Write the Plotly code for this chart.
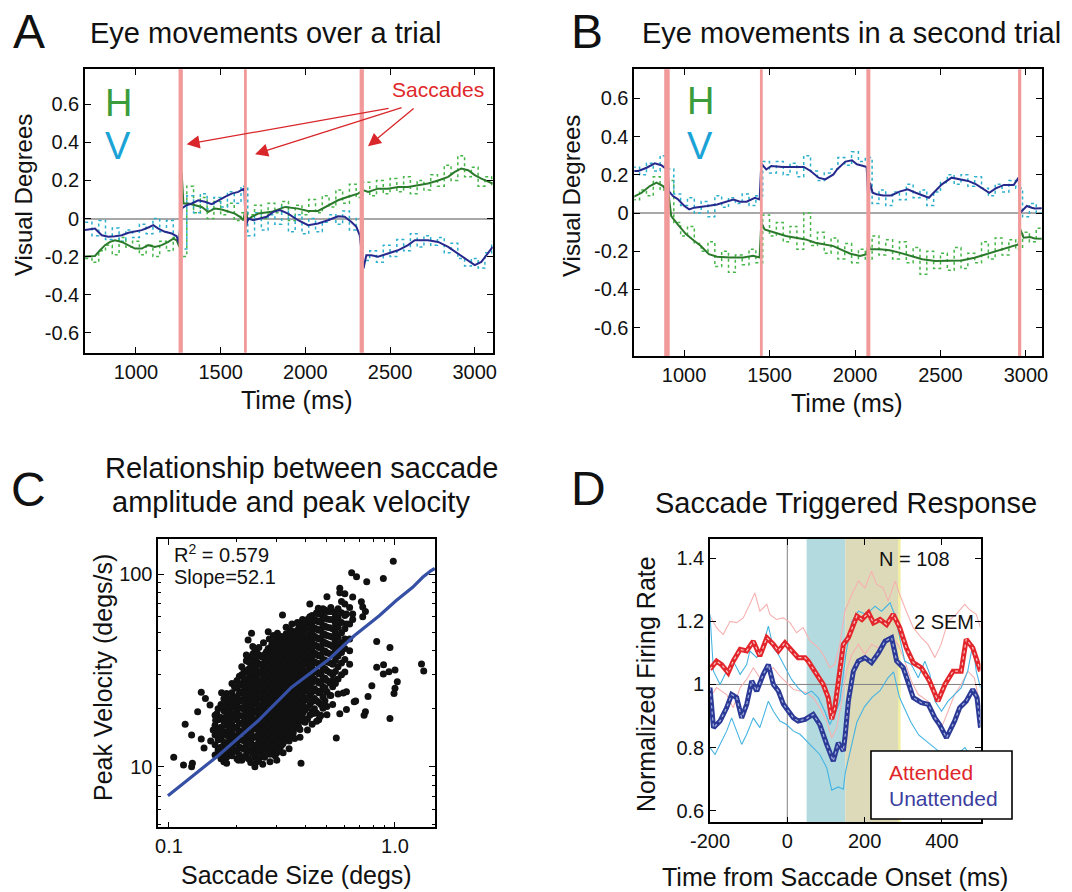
import plotly.graph_objects as go

W, H = 1072, 892
FONT = "Liberation Sans, Arial, Helvetica, sans-serif"

# ---------------- Panel A: eye position over a trial ----------------
A_SACCADES = [1264, 1646, 2333]
A_SACC_WIDTH = [4.3, 2.8, 4.3]

A_H_T = [699, 758, 788, 817, 847, 876, 916, 955, 994, 1034, 1073, 1112, 1152, 1191, 1220, 1240,
         1256, 1270, 1280, 1309, 1349, 1388, 1427, 1466, 1506, 1545, 1584, 1614, 1634, 1647,
         1659, 1683, 1722, 1801, 1880, 1957, 2016, 2075, 2134, 2193, 2252, 2311, 2341, 2370,
         2429, 2488, 2547, 2606, 2665, 2724, 2784, 2843, 2882, 2921, 2961, 3000, 3039, 3079, 3106]
A_H = [-0.200, -0.197, -0.167, -0.140, -0.123, -0.114, -0.123, -0.140, -0.158, -0.158, -0.140,
       -0.149, -0.140, -0.123, -0.106, -0.114, -0.149, 0.236, 0.079, 0.079, 0.070, 0.061, 0.035,
       0.053, 0.047, 0.035, 0.026, 0.009, -0.009, 0.053, -0.009, 0.009, 0.026, 0.035, 0.061,
       0.052, 0.040, 0.040, 0.070, 0.096, 0.114, 0.131, 0.149, 0.140, 0.157, 0.157, 0.166,
       0.166, 0.175, 0.184, 0.200, 0.219, 0.245, 0.263, 0.254, 0.228, 0.210, 0.193, 0.184]

A_V_T = [699, 758, 798, 837, 876, 916, 955, 994, 1034, 1073, 1102, 1132, 1171, 1211, 1240, 1254,
         1270, 1299, 1329, 1368, 1407, 1447, 1486, 1525, 1565, 1604, 1640, 1647, 1663, 1693,
         1732, 1771, 1811, 1850, 1898, 1957, 2016, 2075, 2134, 2193, 2232, 2272, 2301, 2321,
         2331, 2343, 2360, 2390, 2429, 2488, 2547, 2606, 2646, 2724, 2784, 2843, 2902, 2961,
         3000, 3039, 3079, 3106]
A_V = [-0.061, -0.053, -0.088, -0.096, -0.093, -0.088, -0.075, -0.070, -0.061, -0.047, -0.035,
       -0.053, -0.070, -0.079, -0.093, -0.131, 0.053, 0.070, 0.079, 0.096, 0.088, 0.075, 0.096,
       0.114, 0.131, 0.140, 0.158, -0.044, 0.000, -0.009, 0.000, 0.009, 0.035, 0.044, 0.026,
       -0.009, -0.035, -0.026, -0.009, 0.012, 0.009, -0.018, -0.044, -0.088, -0.167, -0.263,
       -0.193, -0.193, -0.201, -0.184, -0.167, -0.140, -0.114, -0.114, -0.123, -0.149, -0.184,
       -0.219, -0.245, -0.228, -0.184, -0.149]

# unfiltered samples, one every 40 ms from 700 to 3100 ms
RAW_T = list(range(700, 3101, 40))
A_H_RAW = [-0.21, -0.23, -0.17, -0.14, -0.19, -0.10, -0.15, -0.12, -0.19, -0.14,
           -0.20, -0.12, -0.17, -0.10, -0.20, 0.17, 0.03, 0.11, 0.00, 0.09,
           0.02, 0.08, -0.01, 0.03, 0.02, 0.07, 0.00, 0.08, 0.03, 0.09,
           -0.01, 0.07, 0.02, 0.10, 0.03, 0.12, 0.06, 0.15, 0.08, 0.18,
           0.11, 0.19, 0.12, 0.20, 0.13, 0.21, 0.14, 0.22, 0.13, 0.20,
           0.15, 0.23, 0.17, 0.28, 0.20, 0.33, 0.22, 0.27, 0.17, 0.22, 0.16]
A_V_RAW = [-0.02, -0.09, -0.01, -0.11, -0.05, -0.12, -0.06, -0.10, -0.03, -0.08,
           0.00, -0.07, -0.01, -0.09, -0.16, 0.12, 0.03, 0.13, 0.05, 0.11,
           0.06, 0.14, 0.08, 0.17, -0.09, 0.03, -0.06, 0.02, -0.03, 0.06,
           -0.07, 0.02, -0.08, 0.00, -0.07, -0.02, 0.02, -0.03, 0.04, -0.06,
           0.00, -0.22, -0.17, -0.23, -0.14, -0.20, -0.11, -0.17, -0.08, -0.15,
           -0.09, -0.14, -0.10, -0.18, -0.13, -0.21, -0.25, -0.21, -0.26, -0.18, -0.12]

# ---------------- Panel B: a second trial ----------------
B_SACCADES = [900, 1452, 2078, 2963]
B_SACC_WIDTH = [5.5, 2.8, 4.0, 3.2]

B_V_T = [695, 733, 781, 829, 867, 890, 900, 911, 935, 963, 1002, 1030, 1059, 1097, 1136, 1193,
         1251, 1289, 1327, 1366, 1414, 1442, 1452, 1481, 1510, 1577, 1653, 1701, 1740, 1787,
         1826, 1874, 1896, 1944, 1982, 2011, 2049, 2068, 2078, 2088, 2103, 2126, 2164, 2212,
         2260, 2308, 2355, 2403, 2432, 2460, 2508, 2565, 2613, 2661, 2709, 2757, 2785, 2823,
         2871, 2928, 2947, 2957, 2967, 2986, 3005, 3034, 3051, 3100]
B_V = [0.220, 0.220, 0.237, 0.260, 0.250, 0.234, 0.321, 0.115, 0.089, 0.073, 0.037, 0.019,
       0.028, 0.031, 0.037, 0.045, 0.059, 0.071, 0.059, 0.059, 0.080, 0.071, 0.258, 0.228,
       0.246, 0.241, 0.241, 0.241, 0.220, 0.185, 0.176, 0.202, 0.229, 0.269, 0.276, 0.255,
       0.246, 0.241, 0.063, 0.159, 0.106, 0.098, 0.092, 0.092, 0.112, 0.124, 0.106, 0.089,
       0.080, 0.106, 0.150, 0.185, 0.176, 0.168, 0.150, 0.124, 0.106, 0.129, 0.147, 0.147,
       0.168, 0.185, 0.002, 0.019, 0.037, 0.028, 0.024, 0.025]

B_H_T = [695, 752, 800, 839, 877, 890, 900, 910, 925, 963, 1011, 1059, 1097, 1145, 1193, 1270,
         1347, 1404, 1442, 1452, 1471, 1500, 1538, 1596, 1653, 1711, 1768, 1826, 1874, 1915,
         1973, 2030, 2068, 2078, 2088, 2145, 2202, 2260, 2336, 2393, 2470, 2546, 2623, 2699,
         2776, 2852, 2928, 2957, 2967, 2986, 3024, 3051, 3100]
B_H = [0.080, 0.106, 0.141, 0.159, 0.141, 0.124, 0.170, 0.080, -0.016, -0.059, -0.110, -0.145,
       -0.171, -0.215, -0.229, -0.232, -0.232, -0.224, -0.232, -0.051, -0.086, -0.094, -0.103,
       -0.120, -0.129, -0.138, -0.155, -0.164, -0.173, -0.190, -0.213, -0.225, -0.216, -0.164,
       -0.190, -0.190, -0.195, -0.207, -0.225, -0.242, -0.251, -0.251, -0.248, -0.234, -0.213,
       -0.190, -0.173, -0.164, -0.086, -0.129, -0.126, -0.133, -0.135]

B_H_RAW = [0.07, 0.12, 0.09, 0.19, 0.12, 0.17, -0.05, -0.12, -0.07, -0.16,
           -0.20, -0.15, -0.28, -0.20, -0.31, -0.22, -0.27, -0.19, -0.26, -0.01,
           -0.12, -0.05, -0.15, -0.07, -0.19, 0.00, -0.17, -0.10, -0.21, -0.13,
           -0.24, -0.16, -0.26, -0.19, -0.25, -0.12, -0.22, -0.14, -0.24, -0.15,
           -0.26, -0.18, -0.32, -0.20, -0.29, -0.21, -0.30, -0.18, -0.29, -0.21,
           -0.26, -0.15, -0.24, -0.13, -0.22, -0.14, -0.19, -0.10, -0.15, -0.08, -0.14]
B_V_RAW = [0.24, 0.20, 0.26, 0.22, 0.30, 0.23, 0.10, 0.04, 0.08, 0.00,
           0.06, -0.02, 0.09, 0.03, 0.08, 0.05, 0.10, 0.04, 0.09, 0.27,
           0.21, 0.27, 0.20, 0.26, 0.19, 0.30, 0.22, 0.17, 0.21, 0.23,
           0.29, 0.25, 0.32, 0.27, 0.29, 0.05, 0.12, 0.04, 0.11, 0.07,
           0.15, 0.08, 0.12, 0.04, 0.11, 0.16, 0.20, 0.15, 0.20, 0.14,
           0.19, 0.13, 0.09, 0.15, 0.11, 0.17, 0.13, -0.02, 0.05, 0.00, 0.04]

# ---------------- Panel C: main sequence ----------------
# the dense core of the cloud, listed column by column (size -> velocities)
C_COL_SIZE = [0.20, 0.21, 0.22, 0.23, 0.24, 0.25, 0.26, 0.27, 0.28, 0.29, 0.30, 0.31, 0.32,
              0.33, 0.34, 0.35, 0.36, 0.37, 0.38, 0.39, 0.40, 0.42, 0.44, 0.46, 0.48, 0.50,
              0.53, 0.56, 0.60, 0.63,
              0.205, 0.215, 0.225, 0.235, 0.245, 0.255, 0.265, 0.275, 0.285, 0.295, 0.305,
              0.315, 0.325, 0.335, 0.345, 0.355, 0.365, 0.375, 0.385, 0.395, 0.41, 0.43,
              0.45, 0.47, 0.49, 0.515, 0.545, 0.58,
              0.16, 0.165, 0.17, 0.175, 0.18, 0.185, 0.19, 0.195]
C_COL_VEL = [
    [11.0, 12.0, 13.2, 14.5, 16.0, 17.5, 19.2, 21.0, 23.0, 25.5, 28.0],
    [10.8, 12.5, 13.8, 15.2, 16.8, 18.4, 20.2, 22.2, 24.5, 27.0, 30.0, 33.0],
    [11.5, 12.8, 14.0, 15.6, 17.2, 19.0, 21.0, 23.2, 25.5, 28.0, 31.0, 35.5],
    [10.5, 12.2, 13.5, 15.0, 16.5, 18.2, 20.0, 22.0, 24.2, 26.8, 29.5, 33.0, 37.0],
    [11.2, 12.6, 14.2, 15.8, 17.5, 19.4, 21.5, 23.8, 26.2, 29.0, 32.0, 36.0, 40.5],
    [11.0, 12.0, 13.4, 15.0, 16.6, 18.4, 20.5, 22.8, 25.0, 27.5, 30.5, 34.0, 38.0],
    [11.5, 13.0, 14.5, 16.2, 18.0, 20.0, 22.2, 24.5, 27.0, 30.0, 33.0, 37.0],
    [12.5, 14.0, 15.6, 17.4, 19.2, 21.4, 23.6, 26.0, 28.8, 32.0, 35.5, 39.5],
    [11.6, 13.0, 14.6, 16.2, 18.0, 20.0, 22.0, 24.5, 27.0, 30.0, 33.5, 37.0, 41.0],
    [12.2, 13.8, 15.4, 17.0, 19.0, 21.0, 23.2, 25.6, 28.4, 31.5, 35.0, 39.0, 43.5],
    [11.8, 13.0, 14.5, 16.0, 17.8, 19.8, 22.0, 24.4, 27.0, 30.0, 33.0, 36.5, 40.5, 45.0],
    [12.6, 14.0, 15.5, 17.2, 19.0, 21.0, 23.2, 25.8, 28.6, 31.6, 35.0, 38.8, 43.0],
    [13.2, 15.0, 16.6, 18.4, 20.4, 22.6, 25.0, 27.6, 30.5, 34.0, 37.5, 41.5, 46.0],
    [14.5, 16.0, 17.8, 19.8, 22.0, 24.2, 26.8, 29.6, 32.8, 36.2, 40.0, 44.5, 49.0],
    [13.6, 15.2, 17.0, 19.0, 21.0, 23.3, 25.8, 28.5, 31.5, 35.0, 38.6, 42.5, 47.0],
    [14.5, 16.4, 18.2, 20.2, 22.4, 24.8, 27.4, 30.4, 33.6, 37.2, 41.2, 45.6, 50.5],
    [15.8, 17.6, 19.6, 21.8, 24.0, 26.6, 29.4, 32.5, 36.0, 39.8, 44.0, 48.5],
    [16.5, 18.4, 20.5, 22.8, 25.2, 28.0, 31.0, 34.2, 37.8, 41.8, 46.2, 51.0],
    [15.6, 17.6, 19.6, 21.8, 24.2, 26.8, 29.6, 32.8, 36.2, 40.0, 44.2, 49.0, 54.0],
    [18.8, 21.0, 23.4, 26.0, 28.8, 31.8, 35.2, 39.0, 43.0, 47.5, 52.5],
    [17.0, 19.6, 22.2, 24.8, 27.6, 30.6, 34.0, 37.6, 41.5, 46.0, 51.0, 56.0],
    [18.5, 21.0, 23.6, 26.4, 29.4, 32.6, 36.0, 40.0, 44.0, 48.5, 54.0, 60.0],
    [20.0, 22.6, 25.4, 28.4, 31.6, 35.0, 38.8, 43.0, 47.5, 52.5, 58.0],
    [17.5, 21.5, 24.2, 27.2, 30.4, 34.0, 37.6, 41.6, 46.0, 51.0, 56.5, 62.0],
    [23.0, 26.0, 29.0, 32.5, 36.0, 40.0, 44.5, 49.0, 54.0, 60.0, 66.0],
    [20.5, 24.5, 28.0, 31.5, 35.0, 39.0, 43.5, 48.0, 53.0, 58.5, 64.0],
    [26.0, 30.0, 34.0, 38.0, 42.0, 47.0, 52.0, 58.0, 64.0],
    [28.5, 33.0, 37.5, 42.0, 47.0, 53.0, 59.0, 66.0],
    [31.0, 36.0, 41.0, 46.0, 52.0, 61.0, 70.0, 79.0],
    [34.0, 40.0, 46.0, 55.0, 67.0],
    [11.5, 12.6, 13.9, 15.3, 16.8, 18.4, 20.1, 22.0, 24.0, 26.5, 29.5],
    [11.2, 12.3, 13.6, 14.9, 16.4, 18.0, 19.8, 21.7, 23.8, 26.2, 28.8, 31.6],
    [11.0, 12.1, 13.3, 14.6, 16.1, 17.7, 19.6, 21.6, 23.8, 26.2, 28.8, 32.0, 35.0],
    [11.7, 12.9, 14.2, 15.6, 17.2, 18.9, 20.8, 22.9, 25.2, 27.8, 30.6, 34.0, 38.5],
    [10.6, 11.8, 13.0, 14.4, 15.9, 17.5, 19.3, 21.3, 23.5, 26.0, 28.6, 31.6, 35.0, 39.0],
    [12.4, 13.7, 15.2, 16.8, 18.6, 20.6, 22.8, 25.2, 27.9, 30.8, 34.0, 37.5],
    [11.2, 12.4, 13.7, 15.2, 16.9, 18.8, 20.9, 23.2, 25.7, 28.4, 31.4, 34.6, 38.2],
    [12.0, 13.3, 14.8, 16.4, 18.2, 20.2, 22.4, 24.8, 27.5, 30.4, 33.6, 37.2, 41.0],
    [12.6, 14.0, 15.5, 17.2, 19.1, 21.2, 23.5, 26.0, 28.8, 31.9, 35.3, 39.0, 43.0],
    [11.4, 12.8, 14.3, 15.9, 17.7, 19.7, 21.9, 24.3, 27.0, 30.0, 33.2, 36.8, 40.8, 44.8],
    [12.2, 13.6, 15.2, 16.9, 18.8, 20.9, 23.2, 25.8, 28.6, 31.7, 35.1, 38.9, 43.0, 47.0],
    [12.9, 14.4, 16.0, 17.8, 19.8, 22.0, 24.4, 27.0, 29.9, 33.1, 36.7, 40.6, 45.0],
    [13.7, 15.3, 17.1, 19.0, 21.1, 23.4, 25.9, 28.7, 31.8, 35.2, 39.0, 43.2, 47.5],
    [14.0, 15.6, 17.4, 19.4, 21.6, 24.0, 26.6, 29.5, 32.7, 36.2, 40.1, 44.4, 48.8],
    [14.8, 16.5, 18.4, 20.5, 22.8, 25.3, 28.0, 31.0, 34.3, 38.0, 42.0, 46.4, 51.0],
    [15.0, 16.8, 18.8, 20.9, 23.2, 25.7, 28.5, 31.6, 35.0, 38.7, 42.8, 47.2],
    [16.1, 18.0, 20.0, 22.3, 24.7, 27.4, 30.3, 33.5, 37.0, 40.9, 45.2, 50.0],
    [16.0, 17.9, 20.0, 22.3, 24.8, 27.5, 30.4, 33.6, 37.1, 41.0, 45.3, 50.0, 54.5],
    [17.2, 19.2, 21.4, 23.8, 26.5, 29.4, 32.6, 36.1, 40.0, 44.2, 48.8, 53.5],
    [17.6, 19.8, 22.2, 24.8, 27.6, 30.6, 34.0, 37.6, 41.6, 46.0, 50.8, 55.5],
    [17.6, 20.2, 22.8, 25.5, 28.5, 31.6, 35.0, 38.8, 42.8, 47.2, 52.5, 58.0],
    [19.2, 21.8, 24.5, 27.4, 30.5, 33.8, 37.4, 41.5, 45.8, 50.5, 56.0, 61.0],
    [19.0, 22.0, 24.8, 27.8, 31.0, 34.5, 38.2, 42.3, 46.7, 51.8, 57.2, 63.0],
    [21.0, 24.6, 27.6, 30.8, 34.3, 38.0, 42.0, 46.5, 51.5, 57.0, 63.0],
    [22.0, 25.6, 28.8, 32.2, 35.8, 39.8, 44.0, 48.6, 53.6, 59.2, 65.0],
    [23.5, 27.2, 30.8, 34.6, 38.6, 43.0, 47.6, 52.6, 58.0, 64.0],
    [27.0, 31.2, 35.6, 40.0, 44.6, 49.8, 55.5, 61.6],
    [30.0, 34.5, 39.2, 44.0, 49.5, 56.0, 63.0, 72.0],
    [11.5, 13.0, 14.6, 16.4, 18.5],
    [12.2, 13.8, 15.6, 17.5, 20.0],
    [11.0, 12.6, 14.2, 16.0, 18.0, 21.0],
    [11.8, 13.4, 15.2, 17.2, 19.5, 22.5],
    [11.2, 12.8, 14.5, 16.4, 18.5, 21.0, 24.0],
    [12.0, 13.6, 15.4, 17.5, 19.8, 22.5],
    [11.4, 13.0, 14.7, 16.6, 18.8, 21.3, 24.2, 27.0],
    [12.2, 13.9, 15.8, 17.9, 20.3, 23.0, 26.0],
]
# scattered saccades around the core
C_OUT_SIZE = [0.105, 0.116, 0.126, 0.127, 0.118, 0.126, 0.134, 0.139, 0.145, 0.152,
              0.139, 0.143, 0.153, 0.157, 0.161, 0.163, 0.165, 0.168, 0.169, 0.171,
              0.174, 0.175, 0.180, 0.183, 0.185, 0.186, 0.188, 0.189, 0.192, 0.192,
              0.196, 0.203, 0.224, 0.232, 0.240, 0.275, 0.302, 0.318, 0.384, 0.420,
              0.458, 0.500, 0.520, 0.570, 0.570, 0.610, 0.610, 0.650, 0.650, 0.650,
              0.643, 0.676, 0.710, 0.720, 0.720, 0.740, 0.750, 0.888, 0.983, 0.830,
              0.950, 0.830, 0.890, 0.940, 0.888, 1.000, 1.024, 1.000, 0.990, 0.790,
              0.760, 0.950, 0.740, 0.730, 0.660, 0.610, 0.570, 0.550, 0.610, 0.480,
              0.435, 0.466, 1.310, 1.340, 0.520, 0.530, 0.530, 0.560, 0.590, 0.670,
              0.220, 0.235, 0.250, 0.262, 0.278, 0.290, 0.310, 0.330, 0.350, 0.370,
              0.390, 0.360, 0.380, 0.410, 0.430, 0.450, 0.470, 0.500, 0.340, 0.320,
              0.300, 0.280, 0.260]
C_OUT_VEL = [11.2, 10.2, 10.0, 10.4, 16.6, 14.6, 19.3, 24.3, 22.6, 20.9,
             13.9, 12.5, 13.6, 15.5, 17.4, 18.8, 14.9, 12.5, 11.4, 24.2,
             20.5, 10.6, 10.4, 11.7, 17.8, 16.1, 13.8, 12.7, 22.2, 14.6,
             13.5, 10.8, 45.4, 49.3, 10.0, 50.2, 49.3, 61.2, 10.4, 69.8,
             66.4, 76.3, 67.0, 84.3, 80.0, 62.0, 55.0, 76.0, 62.0, 58.0,
             101.6, 96.8, 71.8, 67.5, 60.0, 64.0, 91.3, 94.8, 116.6, 44.6,
             41.6, 32.8, 33.8, 31.1, 30.3, 31.8, 27.6, 25.5, 24.0, 26.3,
             23.1, 17.8, 19.3, 18.5, 21.7, 24.5, 18.8, 14.1, 19.8, 20.1,
             18.9, 18.2, 34.1, 31.4, 23.4, 21.0, 27.9, 23.8, 24.1, 21.9,
             38.0, 42.0, 41.5, 44.0, 46.0, 48.0, 47.5, 53.0, 55.0, 56.0,
             58.0, 14.0, 14.2, 15.5, 16.6, 17.2, 18.5, 18.6, 12.4, 11.8,
             10.8, 10.6, 10.3]
C_FIT_SIZE = [0.099, 0.165, 0.248, 0.348, 0.512, 0.660, 0.852, 1.010, 1.197, 1.326, 1.440, 1.500]
C_FIT_VEL = [7.07, 11.4, 17.3, 25.8, 36.2, 47.8, 60.8, 72.6, 85.3, 96.2, 104.0, 107.0]

# ---------------- Panel D: saccade triggered response ----------------
D_ATT_T = [-200, -183, -170, -153, -140, -122, -105, -88, -71, -53, -36, -23, -6, 11, 28, 46,
           54, 76, 93, 106, 115, 123, 132, 145, 158, 180, 193, 210, 223, 240, 257, 274, 291,
           308, 326, 347, 368, 390, 408, 429, 450, 463, 480, 500]
D_ATT = [1.048, 1.074, 1.063, 1.037, 1.074, 1.111, 1.106, 1.137, 1.090, 1.148, 1.127, 1.106,
         1.132, 1.106, 1.085, 1.085, 1.074, 1.032, 1.000, 0.958, 0.890, 0.926, 1.000, 1.127,
         1.148, 1.217, 1.206, 1.227, 1.195, 1.206, 1.190, 1.222, 1.180, 1.116, 1.069, 1.053,
         1.011, 0.947, 1.000, 1.042, 1.042, 1.143, 1.116, 1.042]
D_UNA_T = [-200, -191, -174, -157, -144, -131, -118, -105, -92, -79, -62, -49, -36, -23, -10,
           3, 16, 28, 46, 67, 84, 102, 119, 132, 145, 150, 158, 171, 184, 201, 218, 236, 253,
           270, 283, 300, 313, 326, 347, 365, 382, 394, 412, 433, 446, 463, 480, 491, 500]
D_UNA = [0.990, 0.863, 0.884, 0.926, 0.968, 0.958, 0.894, 0.937, 1.011, 0.979, 1.032, 1.063,
         1.000, 0.979, 0.937, 0.915, 0.894, 0.884, 0.889, 0.905, 0.873, 0.810, 0.757, 0.815,
         0.789, 0.840, 0.947, 1.042, 1.074, 1.085, 1.069, 1.100, 1.137, 1.148, 1.074, 1.053,
         1.011, 0.958, 0.942, 0.937, 0.894, 0.873, 0.831, 0.884, 0.926, 0.947, 0.984, 0.958,
         0.863]
D_ATT_HI_T = [-200, -183, -166, -148, -131, -114, -97, -84, -71, -53, -45, -28, -10, 7, 24, 41,
              59, 76, 93, 110, 123, 136, 149, 167, 184, 201, 218, 231, 248, 261, 279, 291, 308,
              326, 347, 364, 382, 398, 416, 437, 459, 471, 489, 500]
D_ATT_HI = [1.217, 1.180, 1.158, 1.200, 1.196, 1.211, 1.254, 1.290, 1.232, 1.254, 1.222, 1.206,
            1.211, 1.196, 1.164, 1.180, 1.137, 1.122, 1.095, 1.053, 1.063, 1.127, 1.232, 1.285,
            1.328, 1.306, 1.359, 1.317, 1.306, 1.264, 1.328, 1.285, 1.232, 1.180, 1.148, 1.127,
            1.085, 1.127, 1.200, 1.222, 1.254, 1.238, 1.222, 1.180]
D_ATT_LO_T = [-200, -183, -157, -140, -122, -105, -88, -71, -53, -36, -19, -2, 16, 33, 50, 67,
              84, 102, 115, 128, 141, 153, 167, 184, 201, 218, 236, 253, 270, 287, 304, 321,
              339, 364, 386, 399, 416, 433, 450, 467, 484, 500]
D_ATT_LO = [0.958, 0.990, 0.968, 0.926, 0.990, 1.016, 1.053, 1.021, 1.042, 1.053, 1.026, 1.005,
            0.984, 0.979, 0.974, 0.958, 0.926, 0.884, 0.831, 0.863, 0.947, 1.042, 1.095, 1.127,
            1.095, 1.127, 1.116, 1.137, 1.148, 1.127, 1.074, 1.011, 0.968, 0.947, 0.894, 0.863,
            0.915, 0.968, 1.000, 1.042, 1.021, 0.930]
D_UNA_HI_T = [-200, -191, -174, -157, -140, -122, -105, -97, -79, -62, -49, -36, -23, -6, 11,
              28, 46, 63, 80, 97, 110, 123, 136, 152, 167, 184, 205, 227, 244, 266, 279, 291,
              304, 321, 339, 356, 369, 382, 399, 416, 433, 450, 467, 480, 489, 500]
D_UNA_HI = [1.222, 1.042, 1.000, 1.042, 1.074, 1.032, 1.063, 1.106, 1.085, 1.127, 1.185, 1.116,
            1.095, 1.053, 1.016, 0.989, 0.968, 0.979, 0.958, 0.915, 0.873, 0.905, 0.947, 1.100,
            1.200, 1.232, 1.222, 1.248, 1.232, 1.259, 1.217, 1.148, 1.074, 1.063, 1.021, 1.074,
            1.032, 0.947, 0.915, 0.947, 0.968, 0.989, 1.042, 1.127, 1.042, 0.990]
D_UNA_LO_T = [-200, -187, -170, -157, -144, -131, -118, -105, -88, -71, -49, -36, -19, -2, 16,
              33, 50, 67, 84, 102, 115, 132, 145, 150, 165, 180, 200, 220, 240, 260, 275, 290,
              305, 320, 340, 360, 380, 400, 420, 440, 460, 480, 500]
D_UNA_LO = [0.800, 0.778, 0.820, 0.852, 0.894, 0.852, 0.810, 0.842, 0.894, 0.863, 0.947, 0.915,
            0.884, 0.873, 0.852, 0.842, 0.820, 0.800, 0.778, 0.736, 0.665, 0.675, 0.668, 0.720,
            0.800, 0.880, 0.930, 0.960, 0.980, 1.020, 1.040, 0.960, 0.920, 0.880, 0.840, 0.820,
            0.800, 0.780, 0.760, 0.780, 0.800, 0.760, 0.700]
D_WINDOW_EARLY = [50, 150]
D_WINDOW_LATE = [150, 290]

# ---------------- colours ----------------
GREEN_DARK = "#2b7a2b"
GREEN_RAW = "#46b648"
NAVY = "#262a8c"
CYAN_RAW = "#2cb0cc"
SACC_COLOR = "#f29a9a"
RED = "#e2262b"
BLUE = "#2b3a96"


def pxx(x):
    return x / W


def pyy(y):
    return 1 - y / H


def frame_axis(**kw):
    base = dict(showline=True, linecolor="black", linewidth=1.6, mirror="allticks",
                ticks="inside", ticklen=6, tickwidth=1.2, tickcolor="black",
                showgrid=False, zeroline=False,
                tickfont=dict(size=20, color="#111", family=FONT))
    base.update(kw)
    return base


fig = go.Figure()

# Panel A traces
fig.add_trace(go.Scatter(x=RAW_T, y=A_H_RAW, mode="lines", line_shape="hv",
                         line=dict(color=GREEN_RAW, width=1.5, dash="dot"), xaxis="x", yaxis="y"))
fig.add_trace(go.Scatter(x=RAW_T, y=A_V_RAW, mode="lines", line_shape="hv",
                         line=dict(color=CYAN_RAW, width=1.5, dash="dot"), xaxis="x", yaxis="y"))
fig.add_trace(go.Scatter(x=A_H_T, y=A_H, mode="lines",
                         line=dict(color=GREEN_DARK, width=2), xaxis="x", yaxis="y"))
fig.add_trace(go.Scatter(x=A_V_T, y=A_V, mode="lines",
                         line=dict(color=NAVY, width=2), xaxis="x", yaxis="y"))

# Panel B traces
fig.add_trace(go.Scatter(x=RAW_T, y=B_H_RAW, mode="lines", line_shape="hv",
                         line=dict(color=GREEN_RAW, width=1.5, dash="dot"), xaxis="x2", yaxis="y2"))
fig.add_trace(go.Scatter(x=RAW_T, y=B_V_RAW, mode="lines", line_shape="hv",
                         line=dict(color=CYAN_RAW, width=1.5, dash="dot"), xaxis="x2", yaxis="y2"))
fig.add_trace(go.Scatter(x=B_H_T, y=B_H, mode="lines",
                         line=dict(color=GREEN_DARK, width=2), xaxis="x2", yaxis="y2"))
fig.add_trace(go.Scatter(x=B_V_T, y=B_V, mode="lines",
                         line=dict(color=NAVY, width=2), xaxis="x2", yaxis="y2"))

# Panel C traces
c_x, c_y = [], []
for s, vels in zip(C_COL_SIZE, C_COL_VEL):
    for v in vels:
        c_x.append(s)
        c_y.append(v)
c_x += C_OUT_SIZE
c_y += C_OUT_VEL
fig.add_trace(go.Scatter(x=c_x, y=c_y, mode="markers",
                         marker=dict(color="#111111", size=7, line=dict(width=0)),
                         xaxis="x3", yaxis="y3"))
fig.add_trace(go.Scatter(x=C_FIT_SIZE, y=C_FIT_VEL, mode="lines",
                         line=dict(color="#3550a5", width=3.2), xaxis="x3", yaxis="y3"))

# Panel D traces
for t, v, col in [(D_ATT_HI_T, D_ATT_HI, "#f6b1b1"), (D_ATT_LO_T, D_ATT_LO, "#f6b1b1"),
                  (D_UNA_HI_T, D_UNA_HI, "#46b4e2"), (D_UNA_LO_T, D_UNA_LO, "#46b4e2")]:
    fig.add_trace(go.Scatter(x=t, y=v, mode="lines", line=dict(color=col, width=1.1),
                             xaxis="x4", yaxis="y4"))
for t, v, col, bead in [(D_ATT_T, D_ATT, RED, "#f8c4c4"), (D_UNA_T, D_UNA, BLUE, "#a7b0dc")]:
    fig.add_trace(go.Scatter(x=t, y=v, mode="lines", line=dict(color=col, width=5),
                             xaxis="x4", yaxis="y4"))
    fig.add_trace(go.Scatter(x=t, y=v, mode="lines", line=dict(color=bead, width=1.2, dash="dot"),
                             xaxis="x4", yaxis="y4"))

shapes = []
for t, w in zip(A_SACCADES, A_SACC_WIDTH):
    shapes.append(dict(type="line", xref="x", yref="y domain", x0=t, x1=t, y0=0, y1=1,
                       line=dict(color=SACC_COLOR, width=w), layer="above"))
for t, w in zip(B_SACCADES, B_SACC_WIDTH):
    shapes.append(dict(type="line", xref="x2", yref="y2 domain", x0=t, x1=t, y0=0, y1=1,
                       line=dict(color=SACC_COLOR, width=w), layer="above"))
# analysis windows in D
shapes.append(dict(type="rect", xref="x4", yref="y4 domain", x0=D_WINDOW_EARLY[0],
                   x1=D_WINDOW_EARLY[1], y0=0, y1=1, fillcolor="#b3dade",
                   line=dict(width=0), layer="below"))
shapes.append(dict(type="rect", xref="x4", yref="y4 domain", x0=D_WINDOW_LATE[0],
                   x1=D_WINDOW_LATE[1], y0=0, y1=1, fillcolor="#dcdab8",
                   line=dict(width=0), layer="below"))
shapes.append(dict(type="line", xref="x4", yref="y4 domain", x0=D_WINDOW_LATE[1],
                   x1=D_WINDOW_LATE[1], y0=0, y1=1, line=dict(color="#f2f0a0", width=2.5),
                   layer="below"))
shapes.append(dict(type="line", xref="x4", yref="y4 domain", x0=0, x1=0, y0=0, y1=1,
                   line=dict(color="#808080", width=1), layer="below"))
shapes.append(dict(type="line", xref="x4 domain", yref="y4", x0=0, x1=1, y0=1, y1=1,
                   line=dict(color="#808080", width=1), layer="below"))
# legend box for D
shapes.append(dict(type="rect", xref="paper", yref="paper", x0=pxx(871), x1=pxx(1012),
                   y0=pyy(819), y1=pyy(751), fillcolor="white",
                   line=dict(color="black", width=1.6), layer="above"))

ann = []


def text(x, y, s, size, color="#111", xanchor="center", angle=0):
    ann.append(dict(x=pxx(x), y=pyy(y), xref="paper", yref="paper", text=s, showarrow=False,
                    xanchor=xanchor, yanchor="middle", textangle=angle,
                    font=dict(size=size, color=color, family=FONT)))


# panel letters and titles
text(29, 31, "A", 48)
text(587, 31, "B", 48)
text(29, 489, "C", 48)
text(588, 488, "D", 48)
text(88, 33, "Eye movements over a trial", 29, xanchor="left")
text(640, 33, "Eye movements in a second trial", 29, xanchor="left")
text(301, 468, "Relationship between saccade", 29)
text(291, 502, "amplitude and peak velocity", 29)
text(846, 503, "Saccade Triggered Response", 29)

# axis titles
text(23, 195, "Visual Degrees", 24, angle=-90)
text(297, 400, "Time (ms)", 25)
text(572, 196, "Visual Degrees", 24, angle=-90)
text(847, 403, "Time (ms)", 25)
text(103, 678, "Peak Velocity (degs/s)", 25, angle=-90)
text(296, 875, "Saccade Size (degs)", 25)
text(646, 684, "Normalized Firing Rate", 25, angle=-90)
text(835, 877, "Time from Saccade Onset (ms)", 25)

# in-plot labels
text(118, 103, "H", 38, color="#3a9c3a")
text(118, 146, "V", 38, color="#1ba3d6")
text(700, 101, "H", 38, color="#3a9c3a")
text(700, 146, "V", 38, color="#1ba3d6")
text(438, 90, "Saccades", 21, color="#e0282a")
text(172, 553, "R<sup>2</sup> = 0.579", 20, xanchor="left")
text(172, 577, "Slope=52.1", 20, xanchor="left")
text(877, 559, "N = 108", 20, xanchor="left")
text(912, 622, "2 SEM", 20, xanchor="left")
text(887, 772, "Attended", 21, color="#e0262a", xanchor="left")
text(887, 798, "Unattended", 21, color="#3b3ea0", xanchor="left")

# arrows pointing at the saccades in A
ARROWS = [((1299, 0.39), (2500, 0.58)), ((1703, 0.338), (2577, 0.585)), ((2370, 0.38), (2648, 0.585))]
for (hx, hy), (tx, ty) in ARROWS:
    ann.append(dict(x=hx, y=hy, ax=tx, ay=ty, xref="x", yref="y", axref="x", ayref="y",
                    text="", showarrow=True, arrowhead=2, arrowsize=2.0, arrowwidth=1.3,
                    arrowcolor="#d8262a"))

A_YT = [-0.6, -0.4, -0.2, 0, 0.2, 0.4, 0.6]
A_YL = ["-0.6", "-0.4", "-0.2", "0", "0.2", "0.4", "0.6"]
T_TICKS = [1000, 1500, 2000, 2500, 3000]

fig.update_layout(
    width=W, height=H, margin=dict(l=0, r=0, t=0, b=0, pad=0, autoexpand=False),
    paper_bgcolor="white", plot_bgcolor="white", showlegend=False,
    font=dict(family=FONT, color="#111"),
    xaxis=frame_axis(domain=[pxx(85), pxx(492.7)], range=[699, 3106],
                     tickvals=T_TICKS, ticktext=[str(t) for t in T_TICKS], anchor="y"),
    yaxis=frame_axis(domain=[pyy(352.7), pyy(69.3)], range=[-0.705, 0.784],
                     tickvals=A_YT, ticktext=A_YL, anchor="x",
                     zeroline=True, zerolinecolor="#a8a8a8", zerolinewidth=1.5),
    xaxis2=frame_axis(domain=[pxx(634.3), pxx(1041.7)], range=[709, 3092],
                      tickvals=T_TICKS, ticktext=[str(t) for t in T_TICKS], anchor="y2"),
    yaxis2=frame_axis(domain=[pyy(356), pyy(69.3)], range=[-0.748, 0.752],
                      tickvals=A_YT, ticktext=A_YL, anchor="x2",
                      zeroline=True, zerolinecolor="#a8a8a8", zerolinewidth=1.5),
    xaxis3=frame_axis(domain=[pxx(158.3), pxx(435)], type="log", range=[-1.047, 0.177],
                      tickvals=[0.1, 1.0], ticktext=["0.1", "1.0"], anchor="y3",
                      minor=dict(ticks="inside", ticklen=3, tickcolor="black",
                                 tickvals=[0.2, 0.3, 0.4, 0.5, 0.6, 0.7, 0.8, 0.9])),
    yaxis3=frame_axis(domain=[pyy(827.3), pyy(539)], type="log", range=[0.685, 2.182],
                      tickvals=[10, 100], ticktext=["10", "100"], anchor="x3",
                      minor=dict(ticks="inside", ticklen=3, tickcolor="black",
                                 tickvals=[5, 6, 7, 8, 9, 20, 30, 40, 50, 60, 70, 80, 90])),
    xaxis4=frame_axis(domain=[pxx(710), pxx(980.5)], range=[-200, 500],
                      tickvals=[-200, 0, 200, 400], ticktext=["-200", "0", "200", "400"],
                      anchor="y4"),
    yaxis4=frame_axis(domain=[pyy(822.3), pyy(538.7)], range=[0.563, 1.462],
                      tickvals=[0.6, 0.8, 1.0, 1.2, 1.4],
                      ticktext=["0.6", "0.8", "1", "1.2", "1.4"], anchor="x4"),
    shapes=shapes,
    annotations=ann,
)

fig.write_html("out.html")
